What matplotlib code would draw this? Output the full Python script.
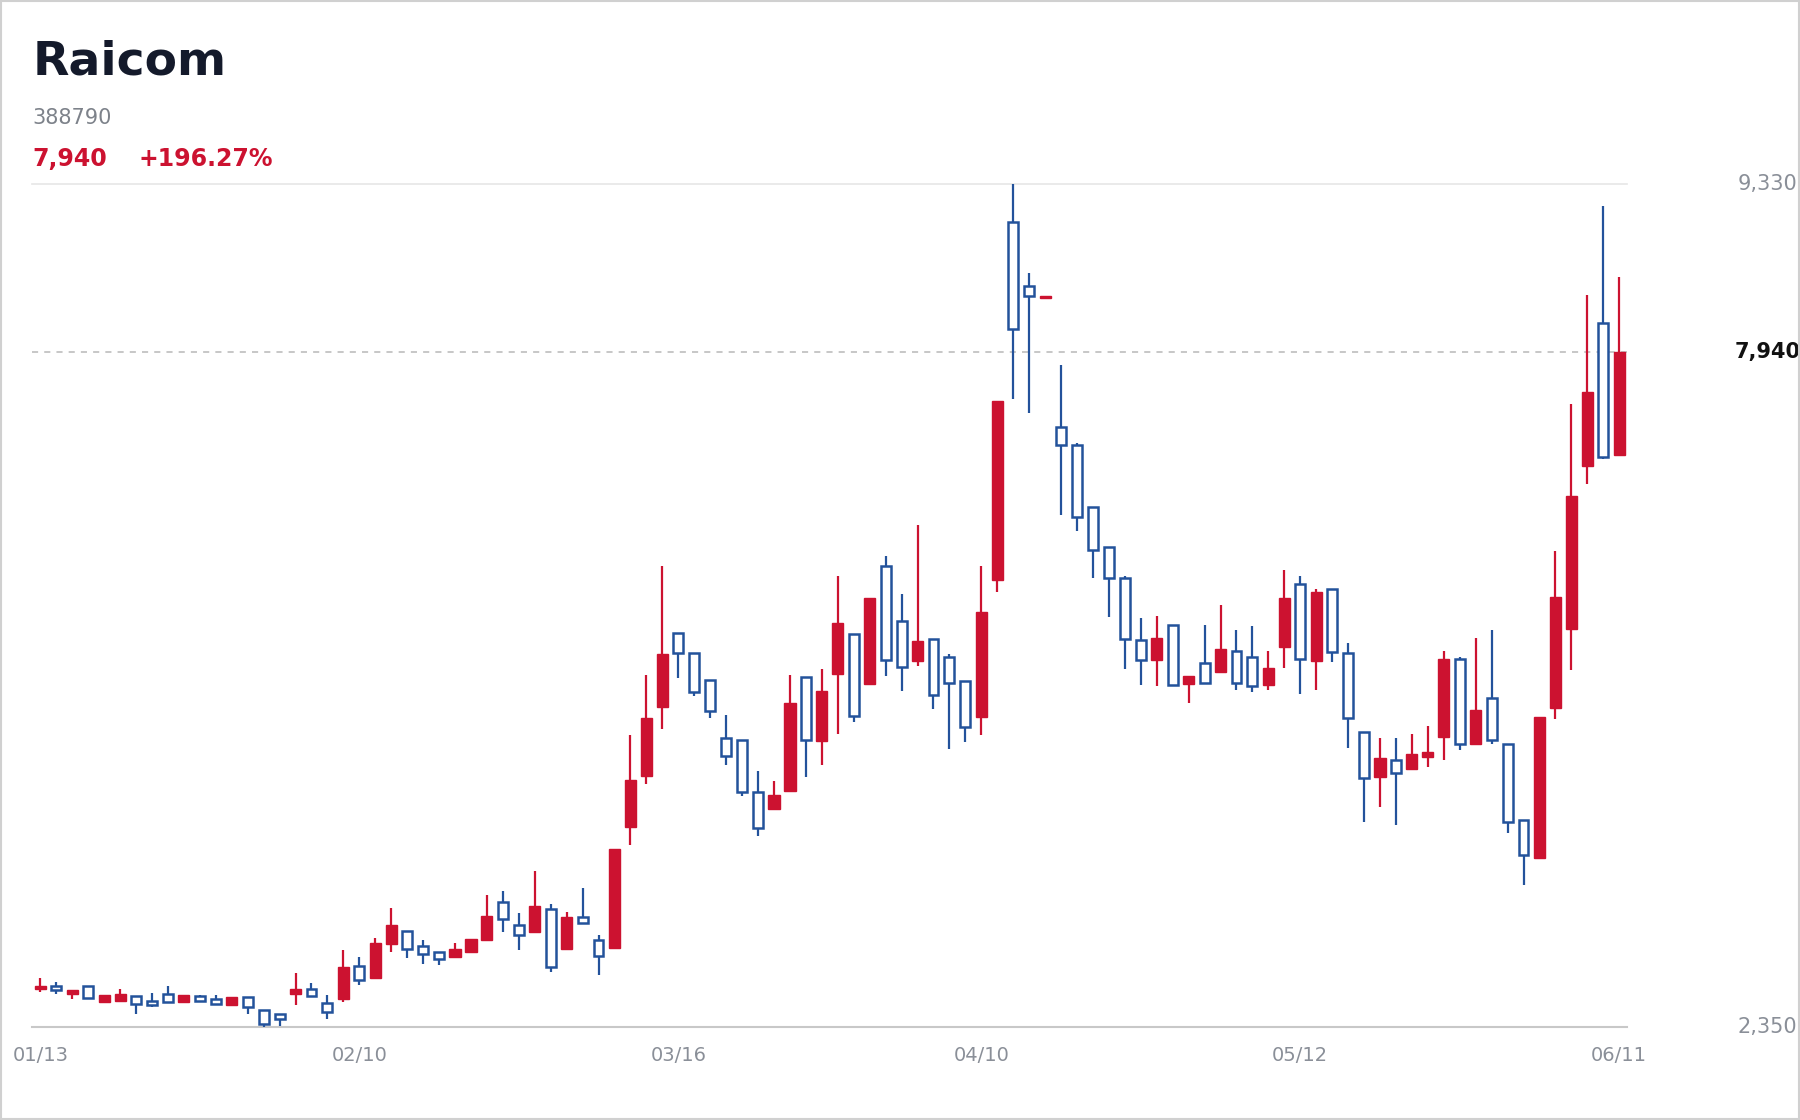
import matplotlib
matplotlib.use("Agg")
import matplotlib.pyplot as plt
import numpy as np

opens = [2664,2692,2625,2692,2559,2568,2606,2568,2625,2559,2606,2578,2530,2597,2492,2454,2625,2664,2550,2578,
         2854,2758,3034,3148,3024,2968,2930,2968,3072,3386,3196,3138,3328,2996,3262,3072,3006,4003,4430,5000,
         5608,5447,5219,4744,4725,4298,4155,4307,5248,4716,5276,5599,5190,6169,5713,5380,5561,5409,5210,4915,
         6046,9010,8487,8383,7319,7167,6654,6321,6064,5552,5390,5675,5190,5362,5286,5466,5409,5181,5494,6017,
         5380,5979,5447,4792,4421,4564,4488,4582,4754,5400,4696,5076,4696,4060,3746,4991,5646,6996,8174,7081]
closes = [2692,2654,2654,2588,2616,2625,2540,2530,2559,2616,2568,2540,2597,2512,2378,2416,2664,2606,2474,2844,
          2740,3044,3196,2996,2958,2910,2996,3082,3272,3243,3110,3348,2844,3262,3214,2939,3822,4392,4906,5438,
          5447,5124,4962,4592,4298,3994,4269,5029,4725,5134,5694,4924,5903,5390,5333,5542,5096,5200,4830,5789,
          7528,8126,8402,8402,7167,6568,6302,6064,5561,5390,5570,5181,5257,5200,5476,5200,5172,5324,5903,5400,
          5951,5456,4906,4412,4573,4450,4611,4630,5400,4696,4972,4725,4050,3775,4915,5912,6748,7604,7072,7940]
highs = [2758,2720,2654,2692,2616,2664,2606,2635,2692,2616,2616,2616,2597,2597,2492,2454,2796,2711,2616,2986,
         2930,3091,3338,3148,3072,2968,3044,3082,3442,3480,3290,3642,3366,3300,3500,3110,3822,4763,5266,6169,
         5608,5447,5219,4934,4725,4468,4383,5266,5248,5314,6084,5599,5903,6245,5932,6502,5561,5438,5210,6169,
         7528,9330,8592,8402,7832,7186,6654,6321,6084,5732,5751,5675,5257,5675,5846,5637,5666,5466,6131,6084,
         5979,5979,5532,4792,4744,4744,4772,4839,5466,5409,5570,5637,4696,4060,4915,6292,7508,8411,9142,8554]
lows = [2644,2625,2578,2588,2559,2568,2454,2512,2559,2559,2568,2540,2530,2454,2350,2360,2530,2606,2416,2559,
        2702,2758,2968,2920,2872,2863,2930,2968,3072,3138,2986,3138,2806,2996,3214,2778,3006,3860,4364,4820,
        5238,5086,4906,4516,4260,3927,4155,4307,4421,4516,4772,4877,5190,5257,5134,5342,4982,4649,4706,4763,
        5951,7547,7433,8383,6587,6454,6064,5742,5314,5181,5172,5181,5029,5200,5286,5143,5124,5143,5324,5105,
        5143,5371,4658,4050,4174,4022,4488,4506,4564,4640,4696,4696,3956,3528,3746,4896,5304,6844,7052,7081]
tick_idx = [0, 20, 40, 59, 79, 99]
tick_labels = ["01/13", "02/10", "03/16", "04/10", "05/12", "06/11"]
y_min, y_max, last = 2350, 9330, 7940

RED = "#cc1230"
BLUE = "#23529b"

fig = plt.figure(figsize=(18, 11.2), dpi=100)
ax = fig.add_axes([0.018, 0.083, 0.886, 0.753])
x = np.arange(len(opens))
o = np.array(opens); c = np.array(closes); h = np.array(highs); l = np.array(lows)
up = c >= o
cols = np.where(up, RED, BLUE)
ax.vlines(x, l, h, colors=cols, linewidth=1.6, zorder=2)
bot = np.minimum(o, c); height = np.maximum(np.abs(c - o), 20)
ax.bar(x[up], height[up], bottom=bot[up], width=0.7, color=RED, edgecolor=RED, linewidth=1, zorder=3)
ax.bar(x[~up], height[~up], bottom=bot[~up], width=0.62, color="white", edgecolor=BLUE, linewidth=1.8, zorder=3)

ax.set_xlim(-0.5, 99.5)
ax.set_ylim(y_min, y_max)
for s in ax.spines.values():
    s.set_visible(False)
ax.axhline(y_max, color="#e6e6e6", lw=1.2, zorder=1, clip_on=False)
ax.axhline(y_min, color="#c8c8c8", lw=1.5, zorder=1, clip_on=False)
ax.axhline(last, color="#b8b8b8", lw=1.1, ls=(0, (4, 4)), zorder=1)
ax.set_yticks([])
ax.set_xticks(tick_idx)
ax.set_xticklabels(tick_labels, color="#8a8f98", fontsize=14)
ax.tick_params(axis="x", length=0, pad=14)

for val, bold, col in [(y_max, False, "#8a8f98"), (last, True, "#111111"), (y_min, False, "#8a8f98")]:
    ax.text(1.088, (val - y_min) / (y_max - y_min), f"{val:,}", transform=ax.transAxes,
            ha="center", va="center", fontsize=15, color=col, fontweight="bold" if bold else "normal")

fig.text(0.018, 0.945, "Raicom", fontsize=34, fontweight="bold", color="#141a2b", va="center")
fig.text(0.018, 0.895, "388790", fontsize=15, color="#7d828a", va="center")
fig.text(0.018, 0.858, "7,940", fontsize=17, fontweight="bold", color=RED, va="center")
fig.text(0.077, 0.858, f"+{(last/2680-1)*100:.2f}%" if False else "+196.27%", fontsize=17, fontweight="bold", color=RED, va="center")

fig.patches.append(plt.Rectangle((0.0005, 0.0005), 0.999, 0.999, transform=fig.transFigure,
                                 fill=False, edgecolor="#d0d0d0", lw=1.5))
fig.savefig("out.png", dpi=100, facecolor="white")
